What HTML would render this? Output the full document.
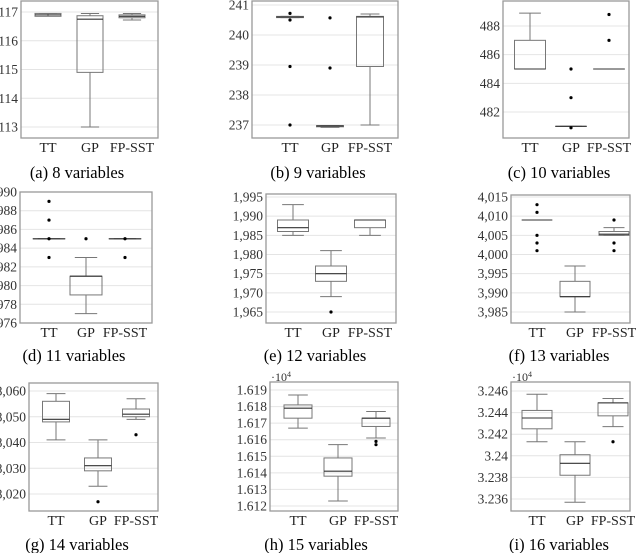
<!DOCTYPE html>
<html><head><meta charset="utf-8"><style>
html,body{margin:0;padding:0;background:#fff;}
svg{display:block;}
svg text{font-family:"Liberation Serif","DejaVu Serif",serif;}
</style></head><body>
<svg id="fig" width="640" height="553" viewBox="0 0 640 553" xmlns="http://www.w3.org/2000/svg" font-family="Liberation Serif, serif">
</svg>
<script>
const categories = ['TT','GP','FP-SST'];
// stats per category: [lowWhisker, q1, median, q3, highWhisker]
const statsA = [[116.95,116.85,116.9,116.95,116.95],[113,114.9,116.75,116.87,116.95],[116.72,116.8,116.85,116.9,116.95]];
const outA = [[],[],[]];
const ticksA = [113,114,115,116,117];
const labelsA = ['113','114','115','116','117'];
const statsB = [[240.58,240.58,240.6,240.62,240.62],[236.92,236.94,236.97,236.98,236.98],[237,238.95,240.6,240.62,240.7]];
const outB = [[240.72,240.5,238.95,237],[240.57,238.9],[]];
const ticksB = [237,238,239,240,241];
const labelsB = ['237','238','239','240','241'];
const statsC = [[485,485,485,487,488.9],[481,481,481,481,481],[485,485,485,485,485]];
const outC = [[],[485,483,480.9],[488.8,487]];
const ticksC = [482,484,486,488];
const labelsC = ['482','484','486','488'];
const statsD = [[985,985,985,985,985],[977,979,981,981,983],[985,985,985,985,985]];
const outD = [[989,987,985,983],[985],[985,983]];
const ticksD = [976,978,980,982,984,986,988,990];
const labelsD = ['1,976','1,978','1,980','1,982','1,984','1,986','1,988','1,990'];
const statsE = [[1985,1986,1987,1989,1993],[1969,1973,1975,1977,1981],[1985,1987,1989,1989,1989]];
const outE = [[],[1965],[]];
const ticksE = [1965,1970,1975,1980,1985,1990,1995];
const labelsE = ['1,965','1,970','1,975','1,980','1,985','1,990','1,995'];
const statsF = [[4009,4009,4009,4009,4009],[3985,3989,3989,3993,3997],[4005,4005,4005.3,4006,4007]];
const outF = [[4013,4011,4005,4003,4001],[],[4009,4003,4001]];
const ticksF = [3985,3990,3995,4000,4005,4010,4015];
const labelsF = ['3,985','3,990','3,995','4,000','4,005','4,010','4,015'];
const statsG = [[8041,8048,8049,8056,8059],[8023,8029,8031,8034,8041],[8049,8050,8051,8053,8057]];
const outG = [[],[8017],[8043]];
const ticksG = [8020,8030,8040,8050,8060];
const labelsG = ['8,020','8,030','8,040','8,050','8,060'];
const statsH = [[1.6167,1.6173,1.6179,1.6181,1.6187],[1.6123,1.6138,1.6141,1.6149,1.6157],[1.6161,1.6168,1.6173,1.6173,1.6177]];
const outH = [[],[],[1.6159,1.6157]];
const ticksH = [1.612,1.613,1.614,1.615,1.616,1.617,1.618,1.619];
const labelsH = ['1.612','1.613','1.614','1.615','1.616','1.617','1.618','1.619'];
const statsI = [[3.2413,3.2425,3.2435,3.2442,3.2457],[3.2357,3.2382,3.2393,3.2401,3.2413],[3.2427,3.2437,3.2449,3.2449,3.2453]];
const outI = [[],[],[3.2413]];
const ticksI = [3.236,3.238,3.24,3.242,3.244,3.246];
const labelsI = ['3.236','3.238','3.24','3.242','3.244','3.246'];

const NS = 'http://www.w3.org/2000/svg';
const svg = document.getElementById('fig');
const FONT = '"Liberation Serif", "DejaVu Serif", serif';
function mk(tag, attrs, parent, text){
  const e = document.createElementNS(NS, tag);
  for (const k in attrs) e.setAttribute(k, attrs[k]);
  if (tag === 'text') e.setAttribute('style', 'font-family:' + FONT);
  if (text !== undefined) e.textContent = text;
  (parent || svg).appendChild(e);
  return e;
}
const panels = [
 {id:'a',cap:'(a) 8 variables',L:21,R:158,T:1,B:138,v1:117,p1:12,v2:113,p2:127,xs:[48,90,132],bw:26,capX:77,capY:178,stats:statsA,out:outA,ticks:ticksA,labels:labelsA},
 {id:'b',cap:'(b) 9 variables',L:252,R:398,T:1,B:138,v1:241,p1:5,v2:237,p2:125,xs:[290,330,370],bw:27,capX:318,capY:178,stats:statsB,out:outB,ticks:ticksB,labels:labelsB},
 {id:'c',cap:'(c) 10 variables',L:503,R:629,T:1,B:138,v1:488,p1:26,v2:482,p2:112,xs:[530,571,609],bw:31,capX:559,capY:178,stats:statsC,out:outC,ticks:ticksC,labels:labelsC},
 {id:'d',cap:'(d) 11 variables',L:20,R:152,T:192,B:323,v1:990,p1:192,v2:976,p2:323,xs:[49,86,125],bw:32,capX:74,capY:361,stats:statsD,out:outD,ticks:ticksD,labels:labelsD},
 {id:'e',cap:'(e) 12 variables',L:266,R:396,T:194,B:323,v1:1995,p1:197,v2:1965,p2:312,xs:[293,331,370],bw:31,capX:315,capY:361,stats:statsE,out:outE,ticks:ticksE,labels:labelsE},
 {id:'f',cap:'(f) 13 variables',L:511,R:630,T:195,B:323,v1:4015,p1:197,v2:3985,p2:312,xs:[537,575,614],bw:30,capX:559,capY:361,stats:statsF,out:outF,ticks:ticksF,labels:labelsF},
 {id:'g',cap:'(g) 14 variables',L:29,R:158,T:383,B:511,v1:8060,p1:391,v2:8020,p2:494,xs:[56,98,136],bw:27,capX:77,capY:550,stats:statsG,out:outG,ticks:ticksG,labels:labelsG},
 {id:'h',cap:'(h) 15 variables',L:270,R:398,T:382,B:511,v1:1.619,p1:390,v2:1.612,p2:506,xs:[298,338,376],bw:28,capX:316,capY:550,stats:statsH,out:outH,ticks:ticksH,labels:labelsH,exp:true},
 {id:'i',cap:'(i) 16 variables',L:511,R:630,T:382,B:511,v1:3.246,p1:391,v2:3.236,p2:499,xs:[537,575,613],bw:30,capX:559,capY:550,stats:statsI,out:outI,ticks:ticksI,labels:labelsI,exp:true}
];
panels.forEach(p => {
  const g = mk('g', {});
  
  
  const y = v => p.p1 + (v - p.v1) * (p.p2 - p.p1) / (p.v2 - p.v1);
  p.ticks.forEach((t, i) => {
    const yy = y(t);
    const gl = mk('line', {x1:p.L, x2:p.R, y1:yy, y2:yy, stroke:'#e4e4e4', 'stroke-width':1}, g);
    
    
    const tl = mk('text', {x:p.L-3, y:yy+4.5, 'text-anchor':'end', 'font-size':13.5, fill:'#333'}, g, p.labels[i]);
    
    
  });
  if (p.exp) {
    const ex = mk('text', {x:p.L+1, y:p.T-1, 'font-size':12, fill:'#333'}, g, '·10');
    
    
    mk('tspan', {dy:-4, 'font-size':8}, ex, '4');
  }
  p.stats.forEach((s, i) => {
    const cx = p.xs[i], hw = p.bw/2, ww = p.bw*0.35;
    const bg = mk('g', {}, g);
    
    
    const st = '#777';
    mk('line', {x1:cx, x2:cx, y1:y(s[0]), y2:y(s[1]), stroke:st, 'stroke-width':1}, bg);
    mk('line', {x1:cx, x2:cx, y1:y(s[3]), y2:y(s[4]), stroke:st, 'stroke-width':1}, bg);
    mk('line', {x1:cx-ww, x2:cx+ww, y1:y(s[0]), y2:y(s[0]), stroke:st, 'stroke-width':1}, bg);
    mk('line', {x1:cx-ww, x2:cx+ww, y1:y(s[4]), y2:y(s[4]), stroke:st, 'stroke-width':1}, bg);
    mk('rect', {x:cx-hw, y:y(s[3]), width:p.bw, height:Math.max(0.01, y(s[1])-y(s[3])), fill:'none', stroke:st, 'stroke-width':1}, bg);
    mk('line', {x1:cx-hw, x2:cx+hw, y1:y(s[2]), y2:y(s[2]), stroke:'#333', 'stroke-width':1.1}, bg);
    p.out[i].forEach(o => {
      const c = mk('circle', {cx:cx, cy:y(o), r:1.6, fill:'#000'}, bg);
      
      
    });
    const cl = mk('text', {x:cx, y:p.B+14, 'text-anchor':'middle', 'font-size':14, fill:'#222'}, g, categories[i]);
    
    
  });
  const fr = mk('rect', {x:p.L, y:p.T, width:p.R-p.L, height:p.B-p.T, fill:'none', stroke:'#999', 'stroke-width':1.3}, g);
  
  
  const cap = mk('text', {x:p.capX, y:p.capY, 'text-anchor':'middle', 'font-size':16.5, fill:'#000'}, g, p.cap);
  
  
});
</script>
</body></html>
